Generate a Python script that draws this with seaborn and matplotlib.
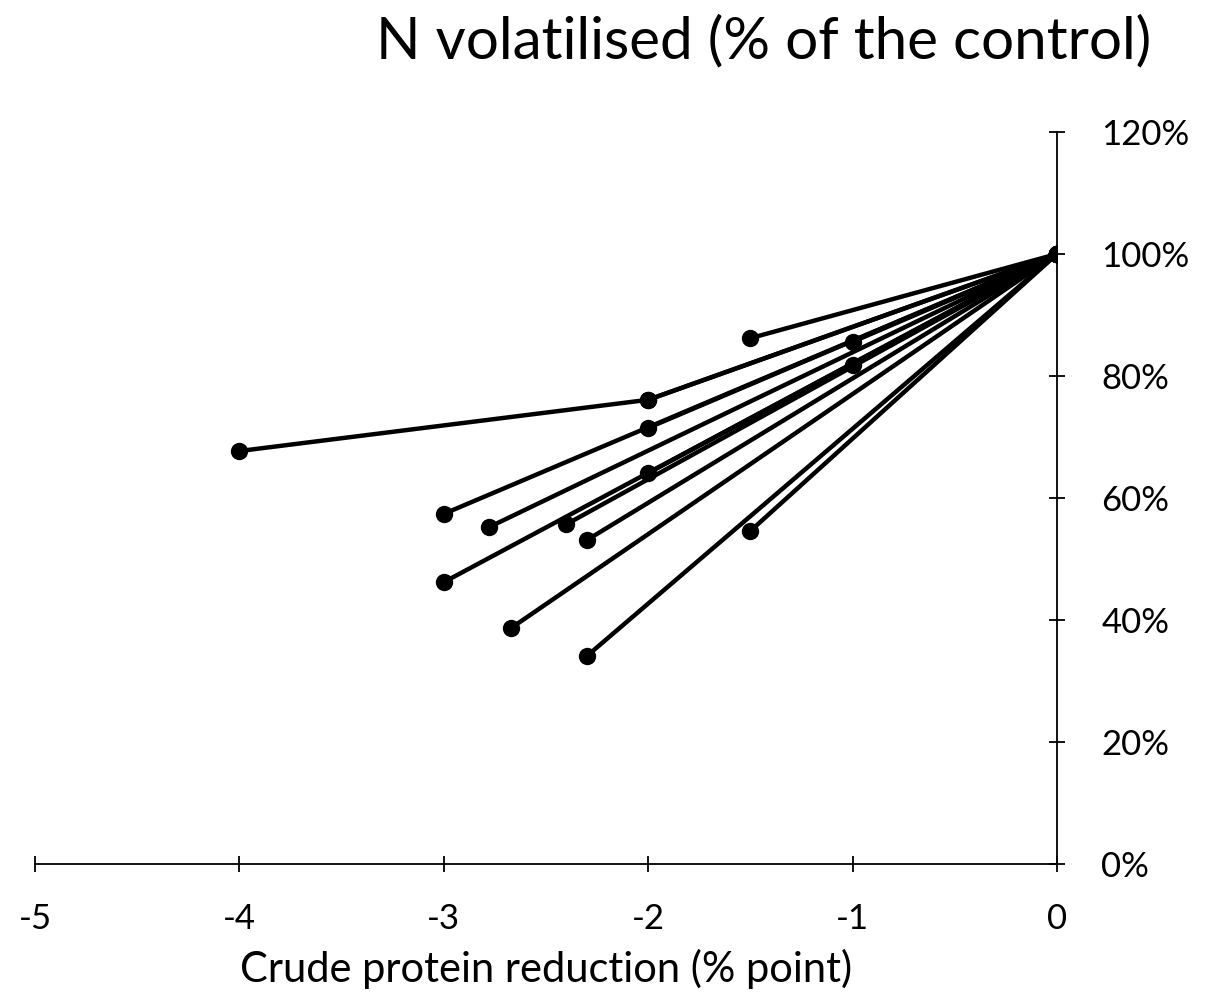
import pandas as pd
import numpy as np
import matplotlib.pyplot as plt
import seaborn as sns

## data: each trial goes from its CP reduction point(s) to the control (0, 100%)
## trial 4 has an intermediate level at -2 points
trial_id = [0, 1, 2, 3, 4, 4, 5, 6, 7, 8, 9, 10, 11, 12, 13, 14]
cp_reduction = [-1.5, -1.0, -1.0, -2.0, -4.0, -2.0, -2.0, -2.0, -3.0, -2.78, -2.4, -2.3, -1.5, -3.0, -2.67, -2.3]
n_volatilised = [0.862, 0.856, 0.818, 0.761, 0.677, 0.761, 0.715, 0.641, 0.574, 0.552, 0.557, 0.531, 0.546, 0.462, 0.387, 0.341]
control_x = 0.0
control_y = 1.0

rows = []
for t, x, y in zip(trial_id, cp_reduction, n_volatilised):
    rows.append({'trial': t, 'x': x, 'y': y})
for t in sorted(set(trial_id)):
    rows.append({'trial': t, 'x': control_x, 'y': control_y})
df = pd.DataFrame(rows).sort_values(['trial', 'x'])

## config.
sns.set_theme(style='white')
plt.rcParams['font.family'] = ['Lato', 'DejaVu Sans']

fig = plt.figure(figsize=(12.2, 9.97), dpi=100)
ax = fig.add_axes([0.0287, 0.1334, 0.8377, 0.7342])

sns.lineplot(data=df, x='x', y='y', units='trial', estimator=None,
             color='black', linewidth=3.2, marker='o', markersize=12.5,
             markeredgewidth=0, sort=False, ax=ax)

ax.set_xlim(-5, 0)
ax.set_ylim(0, 1.2)
ax.set_xticks([-5, -4, -3, -2, -1, 0])
ax.set_xticklabels(['-5', '-4', '-3', '-2', '-1', '0'])
yt = np.arange(0, 1.21, 0.2)
ax.set_yticks(yt)
ax.set_yticklabels([f'{int(round(v * 100))}%' for v in yt])

for s in ['top', 'left']:
    ax.spines[s].set_visible(False)
for s in ['right', 'bottom']:
    ax.spines[s].set_color('black')
    ax.spines[s].set_linewidth(1.3)

ax.yaxis.tick_right()
ax.tick_params(axis='x', bottom=True, top=False)
ax.tick_params(axis='y', right=True, left=False)
ax.tick_params(axis='both', direction='inout', length=12, width=1.3, color='black',
               labelsize=25, labelcolor='black')
ax.tick_params(axis='y', pad=26)
ax.tick_params(axis='x', pad=22)

ax.set_xlabel('Crude protein reduction (% point)', fontsize=30, color='black', labelpad=10)
ax.set_ylabel('')
ax.grid(False)

fig.text(0.944, 0.958, 'N volatilised (% of the control)', ha='right', va='center',
         fontsize=42, color='black')

plt.savefig('out.png', dpi=100)
